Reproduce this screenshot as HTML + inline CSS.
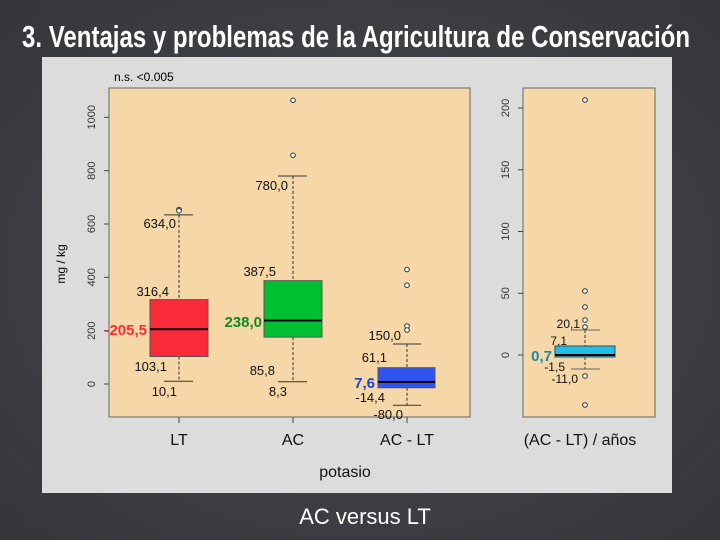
<!DOCTYPE html>
<html><head><meta charset="utf-8"><style>
html,body{margin:0;padding:0;width:720px;height:540px;overflow:hidden;background:#3d3f44}
</style></head><body>
<svg width="720" height="540" viewBox="0 0 720 540" xmlns="http://www.w3.org/2000/svg" font-family="Liberation Sans, sans-serif">
<defs><radialGradient id="bg" cx="50%" cy="50%" r="70%"><stop offset="0" stop-color="#4a4c51"/><stop offset="1" stop-color="#34363a"/></radialGradient></defs>
<rect width="720" height="540" fill="url(#bg)"/>
<text x="22" y="47" fill="#fff" font-family="Liberation Sans Narrow, Liberation Sans, sans-serif" font-weight="bold" font-size="31" textLength="668" lengthAdjust="spacingAndGlyphs">3. Ventajas y problemas de la Agricultura de Conservación</text>
<rect x="42" y="57" width="630" height="436" fill="#dcdcdc"/>
<!-- left plot -->
<rect x="109" y="88" width="361" height="329" fill="#f6d7a7" stroke="#666" stroke-width="1"/>
<text x="114" y="81" font-size="12" fill="#000">n.s. &lt;0.005</text>
<g stroke="#444" stroke-width="1">
<line x1="109" y1="384" x2="104" y2="384"/><line x1="109" y1="330.7" x2="104" y2="330.7"/><line x1="109" y1="277.3" x2="104" y2="277.3"/><line x1="109" y1="224" x2="104" y2="224"/><line x1="109" y1="170.7" x2="104" y2="170.7"/><line x1="109" y1="117.3" x2="104" y2="117.3"/>
<line x1="179" y1="417" x2="179" y2="423"/><line x1="293" y1="417" x2="293" y2="423"/><line x1="407" y1="417" x2="407" y2="423"/>
</g>
<g font-size="11" fill="#333" text-anchor="middle">
<text transform="translate(95,384) rotate(-90)">0</text>
<text transform="translate(95,330.7) rotate(-90)">200</text>
<text transform="translate(95,277.3) rotate(-90)">400</text>
<text transform="translate(95,224) rotate(-90)">600</text>
<text transform="translate(95,170.7) rotate(-90)">800</text>
<text transform="translate(95,117.3) rotate(-90)">1000</text>
</g>
<text transform="translate(65,264) rotate(-90)" font-size="12" text-anchor="middle">mg / kg</text>
<g stroke="#333" stroke-width="1" stroke-dasharray="3,2">
<line x1="179" y1="214.9" x2="179" y2="299.6"/><line x1="179" y1="356.5" x2="179" y2="381"/>
<line x1="293" y1="176" x2="293" y2="280.7"/><line x1="293" y1="337.1" x2="293" y2="381.8"/>
<line x1="407" y1="344" x2="407" y2="367.7"/><line x1="407" y1="387.8" x2="407" y2="405.3"/>
</g>
<g stroke="#333" stroke-width="1">
<line x1="164" y1="214.9" x2="193" y2="214.9"/><line x1="164" y1="381.3" x2="193" y2="381.3"/>
<line x1="278" y1="176" x2="307" y2="176"/><line x1="278" y1="381.8" x2="307" y2="381.8"/>
<line x1="393" y1="344" x2="421" y2="344"/><line x1="393" y1="405.3" x2="421" y2="405.3"/>
</g>
<rect x="150" y="299.6" width="58" height="56.9" fill="#fa2a3a" stroke="#555"/>
<line x1="150" y1="329.2" x2="208" y2="329.2" stroke="#000" stroke-width="2"/>
<rect x="264" y="280.7" width="58" height="56.4" fill="#00c032" stroke="#555"/>
<line x1="264" y1="320.5" x2="322" y2="320.5" stroke="#000" stroke-width="2"/>
<rect x="378" y="367.7" width="57" height="20.1" fill="#3055ee" stroke="#555"/>
<line x1="378" y1="382" x2="435" y2="382" stroke="#000" stroke-width="2"/>
<g fill="#fff" stroke="#333" stroke-width="1">
<circle cx="179" cy="209.5" r="2.3"/><circle cx="179" cy="210.8" r="2.3"/>
<circle cx="293" cy="100.3" r="2.3"/><circle cx="293" cy="155.3" r="2.3"/>
<circle cx="407" cy="269.5" r="2.3"/><circle cx="407" cy="285.3" r="2.3"/><circle cx="407" cy="326" r="2.3"/><circle cx="407" cy="330" r="2.3"/>
</g>
<g font-size="13" fill="#111" text-anchor="end">
<text x="176" y="228">634,0</text><text x="169" y="296">316,4</text><text x="167" y="371">103,1</text><text x="177" y="396">10,1</text>
<text x="288" y="190">780,0</text><text x="276" y="276">387,5</text><text x="275" y="375">85,8</text><text x="287" y="396">8,3</text>
<text x="401" y="340">150,0</text><text x="387" y="362">61,1</text><text x="385" y="402">-14,4</text><text x="403" y="419">-80,0</text>
</g>
<g font-size="15" font-weight="bold" text-anchor="end">
<text x="147" y="335" fill="#fa2a3a">-205,5</text>
<text x="262" y="327" fill="#108a20">238,0</text>
<text x="375" y="388" fill="#2040d0">7,6</text>
</g>
<g font-size="16" fill="#111" text-anchor="middle">
<text x="179" y="445">LT</text><text x="293" y="445">AC</text><text x="407" y="445">AC - LT</text>
<text x="345" y="477">potasio</text>
</g>
<!-- right plot -->
<rect x="523" y="88" width="132" height="329" fill="#f6d7a7" stroke="#666" stroke-width="1"/>
<g stroke="#444" stroke-width="1">
<line x1="523" y1="355" x2="518" y2="355"/><line x1="523" y1="293.3" x2="518" y2="293.3"/><line x1="523" y1="231.5" x2="518" y2="231.5"/><line x1="523" y1="169.8" x2="518" y2="169.8"/><line x1="523" y1="108" x2="518" y2="108"/>
</g>
<g font-size="11" fill="#333" text-anchor="middle">
<text transform="translate(509,355) rotate(-90)">0</text>
<text transform="translate(509,293.3) rotate(-90)">50</text>
<text transform="translate(509,231.5) rotate(-90)">100</text>
<text transform="translate(509,169.8) rotate(-90)">150</text>
<text transform="translate(509,108) rotate(-90)">200</text>
</g>
<line x1="585" y1="330" x2="585" y2="346" stroke="#333" stroke-dasharray="3,2"/>
<line x1="585" y1="357" x2="585" y2="369" stroke="#333" stroke-dasharray="3,2"/>
<line x1="571" y1="330" x2="600" y2="330" stroke="#666"/>
<line x1="571" y1="369" x2="600" y2="369" stroke="#666"/>
<rect x="555" y="346" width="60" height="11" fill="#1ec0e8" stroke="#444"/>
<line x1="555" y1="355" x2="615" y2="355" stroke="#000" stroke-width="2"/>
<g fill="#fff" stroke="#333" stroke-width="1">
<circle cx="585" cy="100" r="2.3"/><circle cx="585" cy="291" r="2.3"/><circle cx="585" cy="307" r="2.3"/><circle cx="585" cy="320" r="2.3"/><circle cx="585" cy="327" r="2.3"/><circle cx="585" cy="376" r="2.3"/><circle cx="585" cy="405" r="2.3"/>
</g>
<g font-size="12" fill="#111" text-anchor="end">
<text x="580" y="328">20,1</text><text x="567" y="345">7,1</text><text x="565" y="371">-1,5</text><text x="578" y="383">-11,0</text>
</g>
<text x="552" y="361" font-size="15" font-weight="bold" fill="#1a8aa8" text-anchor="end">0,7</text>
<text x="580" y="445" font-size="16" fill="#111" text-anchor="middle">(AC - LT) / años</text>
<text x="365" y="524" font-size="22" fill="#fff" text-anchor="middle">AC versus LT</text>
</svg>
</body></html>
